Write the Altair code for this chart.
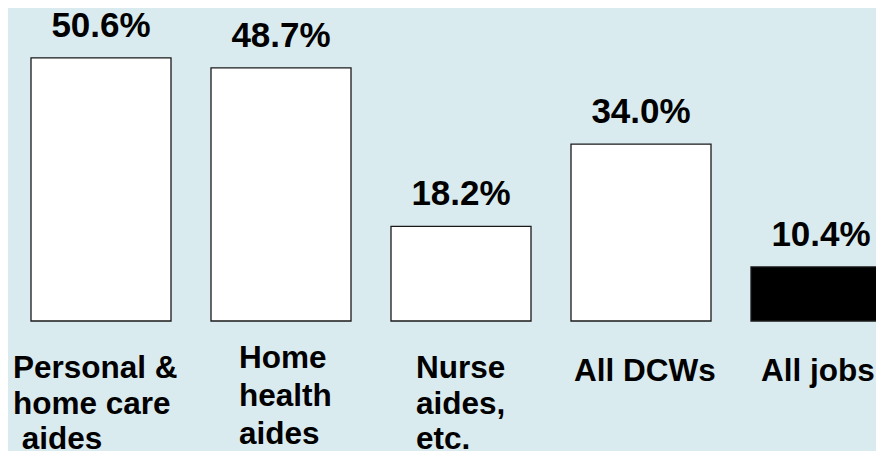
import altair as alt
import pandas as pd

# ---- data ----
keys = ["personal", "home_health", "nurse", "all_dcw", "all_jobs"]
labels = [
    "Personal &\nhome care\n\u200b\u00a0aides",
    "Home\nhealth\naides",
    "Nurse\naides,\netc.",
    "All DCWs",
    "All jobs",
]
values = [50.6, 48.7, 18.2, 34.0, 10.4]
value_labels = ["50.6%", "48.7%", "18.2%", "34.0%", "10.4%"]

# ---- styles (not data) ----
bar_fills = ["white", "white", "white", "white", "black"]
label_dx = [-88, -42, -45, -67, -60]
label_y = [370, 360, 370, 373, 373]
label_lh = [35.5, 38, 35.5, 38, 38]
BG = "#d9ebee"
FONT = "Liberation Sans"

df = pd.DataFrame({"key": keys, "label": labels, "value": values, "vlabel": value_labels})

x_enc = alt.X(
    "key:N",
    sort=keys,
    scale=alt.Scale(range=[0, 900], paddingInner=40 / 180, paddingOuter=20 / 180),
    axis=None,
)
y_enc = alt.Y("value:Q", scale=alt.Scale(domain=[0, 60.2]), axis=None)

base = alt.Chart(df)

bars = base.mark_bar(stroke="#1a1a1a", strokeWidth=1.3).encode(
    x=x_enc,
    y=y_enc,
    fill=alt.Fill("key:N", scale=alt.Scale(domain=keys, range=bar_fills), legend=None),
)

value_text = base.mark_text(
    baseline="alphabetic", dy=-21, fontSize=35, fontWeight="bold", font=FONT, color="black"
).encode(x=x_enc, y=y_enc, text="vlabel:N")

layers = [bars, value_text]
for k, dx, yy, lh in zip(keys, label_dx, label_y, label_lh):
    layers.append(
        base.transform_filter(alt.datum.key == k)
        .mark_text(
            align="left",
            baseline="alphabetic",
            dx=dx,
            lineBreak="\n",
            lineHeight=lh,
            fontSize=31.5,
            fontWeight="bold",
            font=FONT,
            color="black",
        )
        .encode(x=x_enc, y=alt.value(yy), text="label:N")
    )

chart = (
    alt.layer(*layers)
    .properties(
        width=865,
        height=313,
        autosize=alt.AutoSizeParams(type="none"),
        padding={"left": 3, "top": 0, "right": 0, "bottom": 130},
        background=BG,
    )
    .configure_view(stroke=None)
)

chart.save("out.html", embed_options={"renderer": "svg", "actions": False})
